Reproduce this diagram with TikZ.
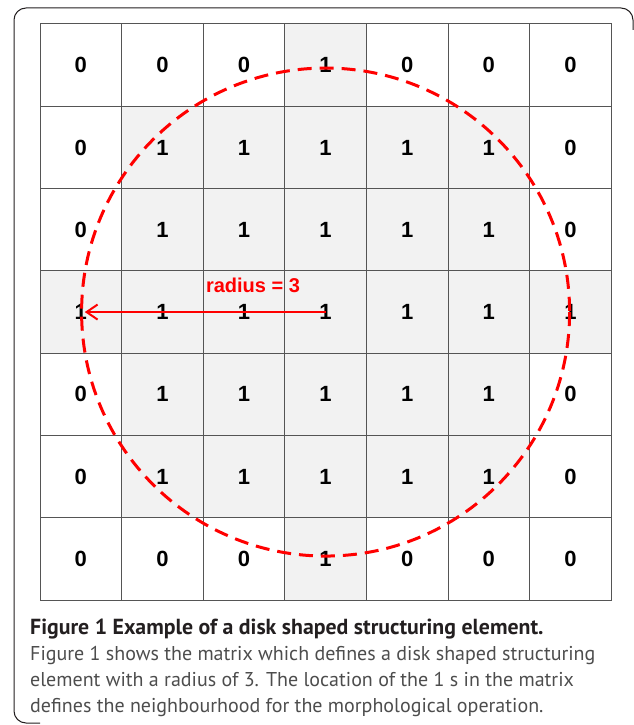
\documentclass[tikz,border=0pt]{standalone}
\usepackage{fontspec}
\setmainfont{PT Sans}
\newfontfamily\cellfont{Liberation Sans}
\usetikzlibrary{positioning,calc,arrows.meta}
\definecolor{gridline}{HTML}{555555}
\definecolor{cellgray}{HTML}{F2F2F2}
\definecolor{diskred}{HTML}{FF0000}
\definecolor{capgray}{HTML}{4D4D4D}
\definecolor{capdark}{HTML}{231F20}

\begin{document}
\begin{tikzpicture}[x=1pt,y=-1pt,
  cell/.style={draw=gridline,line width=1pt,minimum width=81.6pt,minimum height=82.3pt,
    inner sep=0pt,font=\cellfont\bfseries\fontsize{22}{22}\selectfont},
  disk/.style={diskred,line width=3pt,dash pattern=on 14pt off 8pt},
  rarrow/.style={diskred,line width=2pt,-{Straight Barb[length=11pt,width=15pt]}}]
\useasboundingbox (0,0) rectangle (633,725);
% frame
\draw[capdark,line width=1pt,rounded corners=12pt] (633,30) |- (14,8) |- (40,723);
% the matrix
\foreach \vals [count=\r from 0] in {{0,0,0,1,0,0,0},{0,1,1,1,1,1,0},{0,1,1,1,1,1,0},
    {1,1,1,1,1,1,1},{0,1,1,1,1,1,0},{0,1,1,1,1,1,0},{0,0,0,1,0,0,0}} {
  \foreach \v [count=\c from 0] in \vals {
    \ifnum\v=1 \def\cellfill{cellgray}\else\def\cellfill{white}\fi
    \node[cell,fill=\cellfill] (m-\r-\c) at ({40+(\c+0.5)*81.6},{24+(\r+0.5)*82.3}) {\v};
  }
}
% disk and radius
\draw[disk] (m-3-3.center) circle[radius=244];
\draw[rarrow] (m-3-3.center) -- ([xshift=4pt]m-3-0.center);
\node[diskred,font=\cellfont\bfseries\fontsize{20}{20}\selectfont] (rlabel)
  at ([xshift=9pt,yshift=27pt]m-3-2.center) {radius = 3};
% caption
\node[anchor=base west,inner sep=0pt,align=left,text=capdark,
  font=\bfseries\fontsize{21.8}{26}\selectfont] (title) at (30,634)
  {Figure 1 Example of a disk shaped structuring element.};
\node[anchor=base west,inner sep=0pt,align=left,text=capgray,
  font=\fontsize{20}{26}\selectfont] (body) at (30,712)
  {Figure 1 shows the matrix which defines a disk shaped structuring\\
   element with a radius of 3. The location of the 1 s in the matrix\\
   defines the neighbourhood for the morphological operation.};
\end{tikzpicture}
\end{document}
